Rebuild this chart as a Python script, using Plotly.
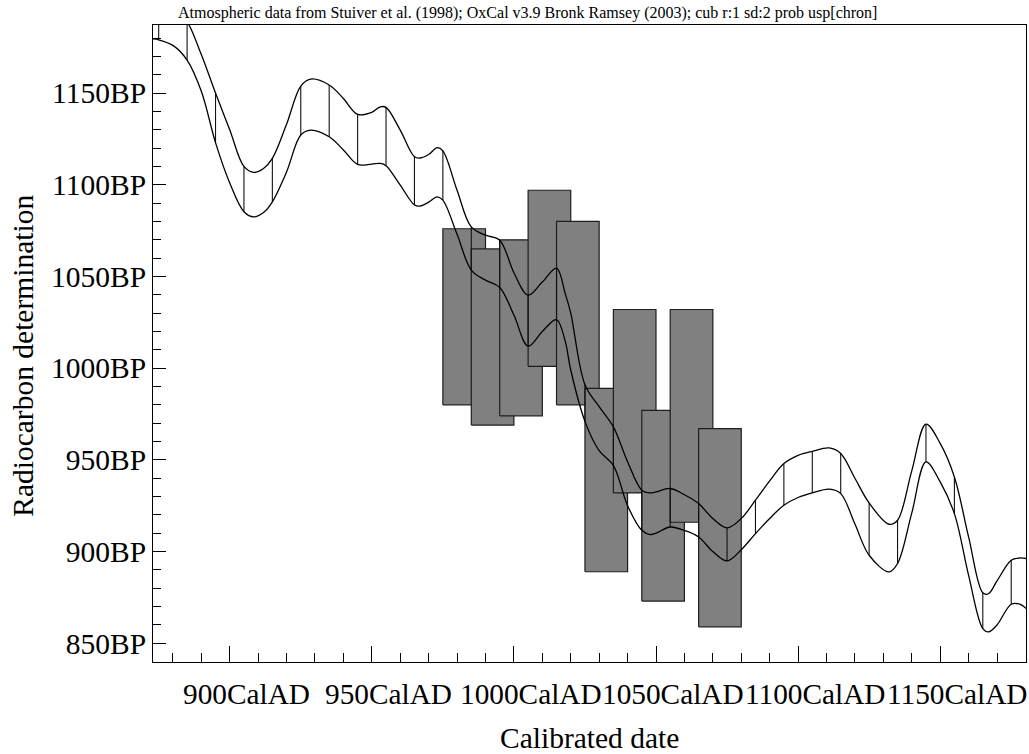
import plotly.graph_objects as go

# ---------------- data ----------------
TITLE = "Atmospheric data from Stuiver et al. (1998); OxCal v3.9 Bronk Ramsey (2003); cub r:1 sd:2 prob usp[chron]"

# calibration curve (cal AD) with upper / lower 1-sigma envelope (BP)
YEARS = [873, 875, 880, 885, 890, 895, 900, 905, 908.5, 912, 915, 920, 925, 928.5,
         935, 940, 945, 950, 953, 955, 960, 965, 967, 970, 973, 975, 980, 985, 990,
         995, 1000, 1005, 1010, 1015, 1018, 1020, 1025, 1030, 1035, 1040, 1045, 1048,
         1050, 1055, 1060, 1065, 1070, 1075, 1080, 1085, 1090, 1095, 1100, 1105, 1111,
         1115, 1120, 1125, 1132, 1135, 1140, 1145, 1150, 1155, 1160, 1165, 1167, 1170,
         1175, 1178, 1181]
UPPER = [1206, 1203, 1198, 1189, 1171, 1150, 1130, 1110, 1106.7, 1109, 1114.4, 1133, 1153.8, 1157.6,
         1154.4, 1147, 1138.4, 1139.5, 1142.5, 1142.2, 1129.8, 1115.3, 1114.6, 1116.5, 1120.2, 1118.5, 1097, 1077, 1072.5,
         1069.8, 1052, 1039.8, 1047, 1054.5, 1041, 1030, 991, 979, 968, 949, 933.5, 932,
         932.5, 934.4, 931, 926.2, 918, 912.9, 918, 928, 938.5, 948, 952.5, 954.7, 956.5,
         953.5, 940, 926.5, 914.9, 917.1, 944, 969.5, 959, 940.7, 908, 877.5, 877, 884,
         895.3, 896.5, 896]
LOWER = [1179.5, 1179, 1176, 1168, 1151, 1123, 1101, 1085.3, 1082.5, 1085, 1090.7, 1107, 1127.1, 1129.8,
         1126.2, 1119, 1111.1, 1111.3, 1111.6, 1110.4, 1099.8, 1089, 1088.4, 1090.5, 1093.4, 1091.6, 1073, 1053.5, 1048,
         1044, 1029, 1012, 1020, 1026.5, 1015, 999, 971, 955, 947, 925, 911.6, 909.3,
         910, 913.4, 911.5, 908, 900, 894.9, 901, 909.8, 918, 925.3, 929.5, 932, 934,
         931.6, 915, 898, 888.9, 893.5, 921, 948.9, 938, 920.7, 887, 858, 856.2, 860,
         871.3, 871.3, 868]

# years where the envelope is hatched
HATCH_YEARS = [875, 885, 895, 905, 915, 925, 935, 945, 955, 965, 975, 985, 995, 1005,
               1015, 1025, 1035, 1045, 1055, 1065, 1075, 1085, 1095, 1105, 1115, 1125,
               1135, 1145, 1155, 1165, 1175]

# radiocarbon measurements (boxes): calendar span and BP range
BOX_START = [975, 985, 995, 1005, 1015, 1025, 1035, 1045, 1055, 1065]
BOX_END = [990, 1000, 1010, 1020, 1030, 1040, 1050, 1060, 1070, 1080]
BOX_LOW = [980, 969, 974, 1001, 980, 889, 932, 873, 916, 859]
BOX_HIGH = [1076, 1065, 1070, 1097, 1080, 989, 1032, 977, 1032, 967]

X_TICKS = [900, 950, 1000, 1050, 1100, 1150]
X_LABELS = ["900CalAD", "950CalAD", "1000CalAD", "1050CalAD", "1100CalAD", "1150CalAD"]
Y_TICKS = [850, 900, 950, 1000, 1050, 1100, 1150]
Y_LABELS = ["850BP", "900BP", "950BP", "1000BP", "1050BP", "1100BP", "1150BP"]

# ---------------- figure ----------------
FONT = "Liberation Serif, Times New Roman, serif"
fig = go.Figure()

for s, e, lo, hi in zip(BOX_START, BOX_END, BOX_LOW, BOX_HIGH):
    fig.add_trace(go.Scatter(
        x=[s, e, e, s, s], y=[lo, lo, hi, hi, lo], mode="lines",
        fill="toself", fillcolor="#808080",
        line=dict(color="#1e1e1e", width=1.2), hoverinfo="skip", showlegend=False))

hx, hy = [], []
for yr in HATCH_YEARS:
    i = YEARS.index(yr)
    hx += [yr, yr, None]
    hy += [LOWER[i], UPPER[i], None]
fig.add_trace(go.Scatter(x=hx, y=hy, mode="lines",
                         line=dict(color="#111111", width=1.1), showlegend=False, hoverinfo="skip"))

for arr in (UPPER, LOWER):
    fig.add_trace(go.Scatter(x=YEARS, y=arr, mode="lines",
                             line=dict(color="black", width=1.3, shape="spline", smoothing=1.0),
                             showlegend=False))

fig.update_layout(
    width=1029, height=754,
    margin=dict(l=153, r=3, t=25, b=92, autoexpand=False),
    paper_bgcolor="white", plot_bgcolor="white",
    font=dict(family=FONT, color="black"),
    title=dict(text=TITLE, font=dict(family=FONT, size=16, color="black"),
               x=178 / 1029, xanchor="left", xref="container",
               y=1 - 12.5 / 754, yanchor="middle", yref="container"),
    showlegend=False,
)

fig.update_xaxes(
    range=[873, 1180.2], tickmode="array", tickvals=X_TICKS, ticktext=X_LABELS,
    showticklabels=False,
    ticks="inside", ticklen=16, tickwidth=1, tickcolor="black",
    minor=dict(ticks="inside", ticklen=9, tickwidth=1, tickcolor="black", dtick=10, tick0=900, showgrid=False),
    showline=True, mirror=True, linecolor="black", linewidth=1,
    showgrid=False, zeroline=False, automargin=False,
)
fig.update_yaxes(
    range=[839.8, 1187.1], tickmode="array", tickvals=Y_TICKS, ticktext=Y_LABELS,
    ticks="inside", ticklen=13, tickwidth=1, tickcolor="black",
    minor=dict(ticks="inside", ticklen=8, tickwidth=1, tickcolor="black", dtick=10, tick0=850, showgrid=False),
    showline=True, mirror=True, linecolor="black", linewidth=1,
    showgrid=False, zeroline=False, automargin=False,
    tickfont=dict(family=FONT, size=29.5, color="black"),
)

# x tick labels (placed at the axis values, offset to the right as in the original)
for v, t in zip(X_TICKS, X_LABELS):
    fig.add_annotation(text=t, xref="x", yref="paper", x=v, y=-(694 - 662) / 637,
                       xanchor="center", yanchor="middle", xshift=17, showarrow=False,
                       font=dict(family=FONT, size=29.3, color="black"))

fig.add_annotation(text="Radiocarbon determination", xref="paper", yref="paper",
                   x=(23 - 153) / 873, y=1 - (355.8 - 25) / 637, textangle=-90,
                   xanchor="center", yanchor="middle", showarrow=False,
                   font=dict(family=FONT, size=29.5, color="black"))
fig.add_annotation(text="Calibrated date", xref="paper", yref="paper",
                   x=0.5, y=-(738 - 662) / 637, xanchor="center", yanchor="middle",
                   showarrow=False, font=dict(family=FONT, size=29.5, color="black"))

fig.write_html("out.html")
